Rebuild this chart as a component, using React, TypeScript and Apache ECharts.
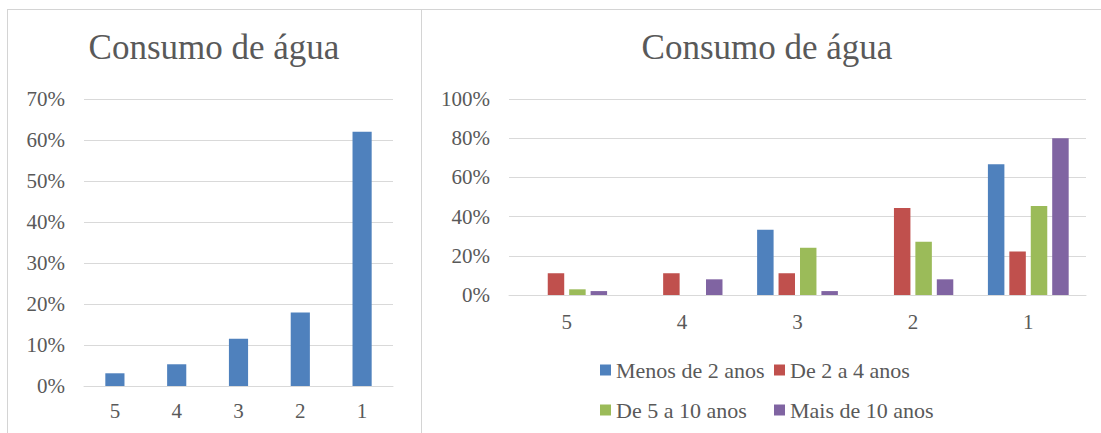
import React, { useEffect, useRef } from "react";
import * as echarts from "echarts";

const categories = ["5", "4", "3", "2", "1"];
const overall = [3.1, 5.3, 11.5, 17.9, 62.0];
const groupNames = ["Menos de 2 anos", "De 2 a 4 anos", "De 5 a 10 anos", "Mais de 10 anos"];
const menos2 = [0, 0, 33.3, 0, 66.7];
const de2a4 = [11.1, 11.1, 11.1, 44.4, 22.2];
const de5a10 = [2.9, 0, 24.1, 27.2, 45.4];
const mais10 = [2.0, 8.0, 2.0, 8.0, 80.0];
const groupValues = [menos2, de2a4, de5a10, mais10];
const colors = ["#4f81bd", "#c0504d", "#9bbb59", "#8064a2"];
const titleText = "Consumo de água";

const FONT = "Liberation Serif, DejaVu Serif, serif";
const TXT = "#595959";
const GRID = "#d9d9d9";

export default function App() {
  const ref = useRef<HTMLDivElement>(null);
  useEffect(() => {
    if (!ref.current) return;
    const chart = echarts.init(ref.current, undefined, { renderer: "svg" });
    const mkX = (gridIndex: number) => ({
      type: "category",
      gridIndex,
      data: categories,
      axisTick: { show: false },
      axisLine: { lineStyle: { color: GRID, width: 1 } },
      axisLabel: { color: TXT, fontFamily: FONT, fontSize: 21, margin: gridIndex === 0 ? 14 : 16 },
    });
    const mkY = (gridIndex: number, max: number, interval: number) => ({
      type: "value",
      gridIndex,
      min: 0,
      max,
      interval,
      axisLine: { show: false },
      axisTick: { show: false },
      splitLine: { lineStyle: { color: GRID, width: 1 } },
      axisLabel: { color: TXT, fontFamily: FONT, fontSize: 21, margin: 19, formatter: "{value}%" },
    });
    const legendText = { color: TXT, fontFamily: FONT, fontSize: 22 };
    const mkTitle = (x: number) => ({
      text: titleText,
      left: x,
      top: 30,
      padding: 0,
      textAlign: "center",
      textStyle: { color: TXT, fontFamily: FONT, fontSize: 35, fontWeight: "normal" },
    });
    chart.setOption({
      animation: false,
      textStyle: { fontFamily: FONT },
      title: [mkTitle(214), mkTitle(767)],
      grid: [
        { left: 84, top: 99, width: 309, height: 287 },
        { left: 509, top: 99, width: 577, height: 196 },
      ],
      xAxis: [mkX(0), mkX(1)],
      yAxis: [mkY(0, 70, 10), mkY(1, 100, 20)],
      legend: [
        {
          orient: "vertical",
          left: 600,
          top: 359,
          padding: 0,
          itemWidth: 11,
          itemHeight: 11,
          itemGap: 18,
          icon: "rect",
          data: [groupNames[0], groupNames[2]],
          textStyle: legendText,
        },
        {
          orient: "vertical",
          left: 774,
          top: 359,
          padding: 0,
          itemWidth: 11,
          itemHeight: 11,
          itemGap: 18,
          icon: "rect",
          data: [groupNames[1], groupNames[3]],
          textStyle: legendText,
        },
      ],
      series: [
        {
          type: "bar",
          name: "Consumo",
          xAxisIndex: 0,
          yAxisIndex: 0,
          data: overall,
          barCategoryGap: "69%",
          itemStyle: { color: colors[0] },
        },
        ...groupNames.map((name, i) => ({
          type: "bar",
          name,
          xAxisIndex: 1,
          yAxisIndex: 1,
          data: groupValues[i],
          barCategoryGap: "30%",
          barGap: "30%",
          itemStyle: { color: colors[i] },
        })),
      ],
    });
    return () => chart.dispose();
  }, []);
  const box = (left: number, width: number): React.CSSProperties => ({
    position: "absolute",
    left,
    top: 9,
    width,
    height: 450,
    border: "1px solid #d4d4d4",
    boxSizing: "border-box",
  });
  return (
    <div style={{ position: "absolute", left: 0, top: 0, width: 1101, height: 433, overflow: "hidden", background: "#fff", fontFamily: "Liberation Serif, serif" }}>
      <div style={box(7, 415)} />
      <div style={box(421, 700)} />
      <div
        ref={ref}
        style={{ position: "absolute", left: 0, top: 0, width: 1101, height: 433 }}
      />
    </div>
  );
}
